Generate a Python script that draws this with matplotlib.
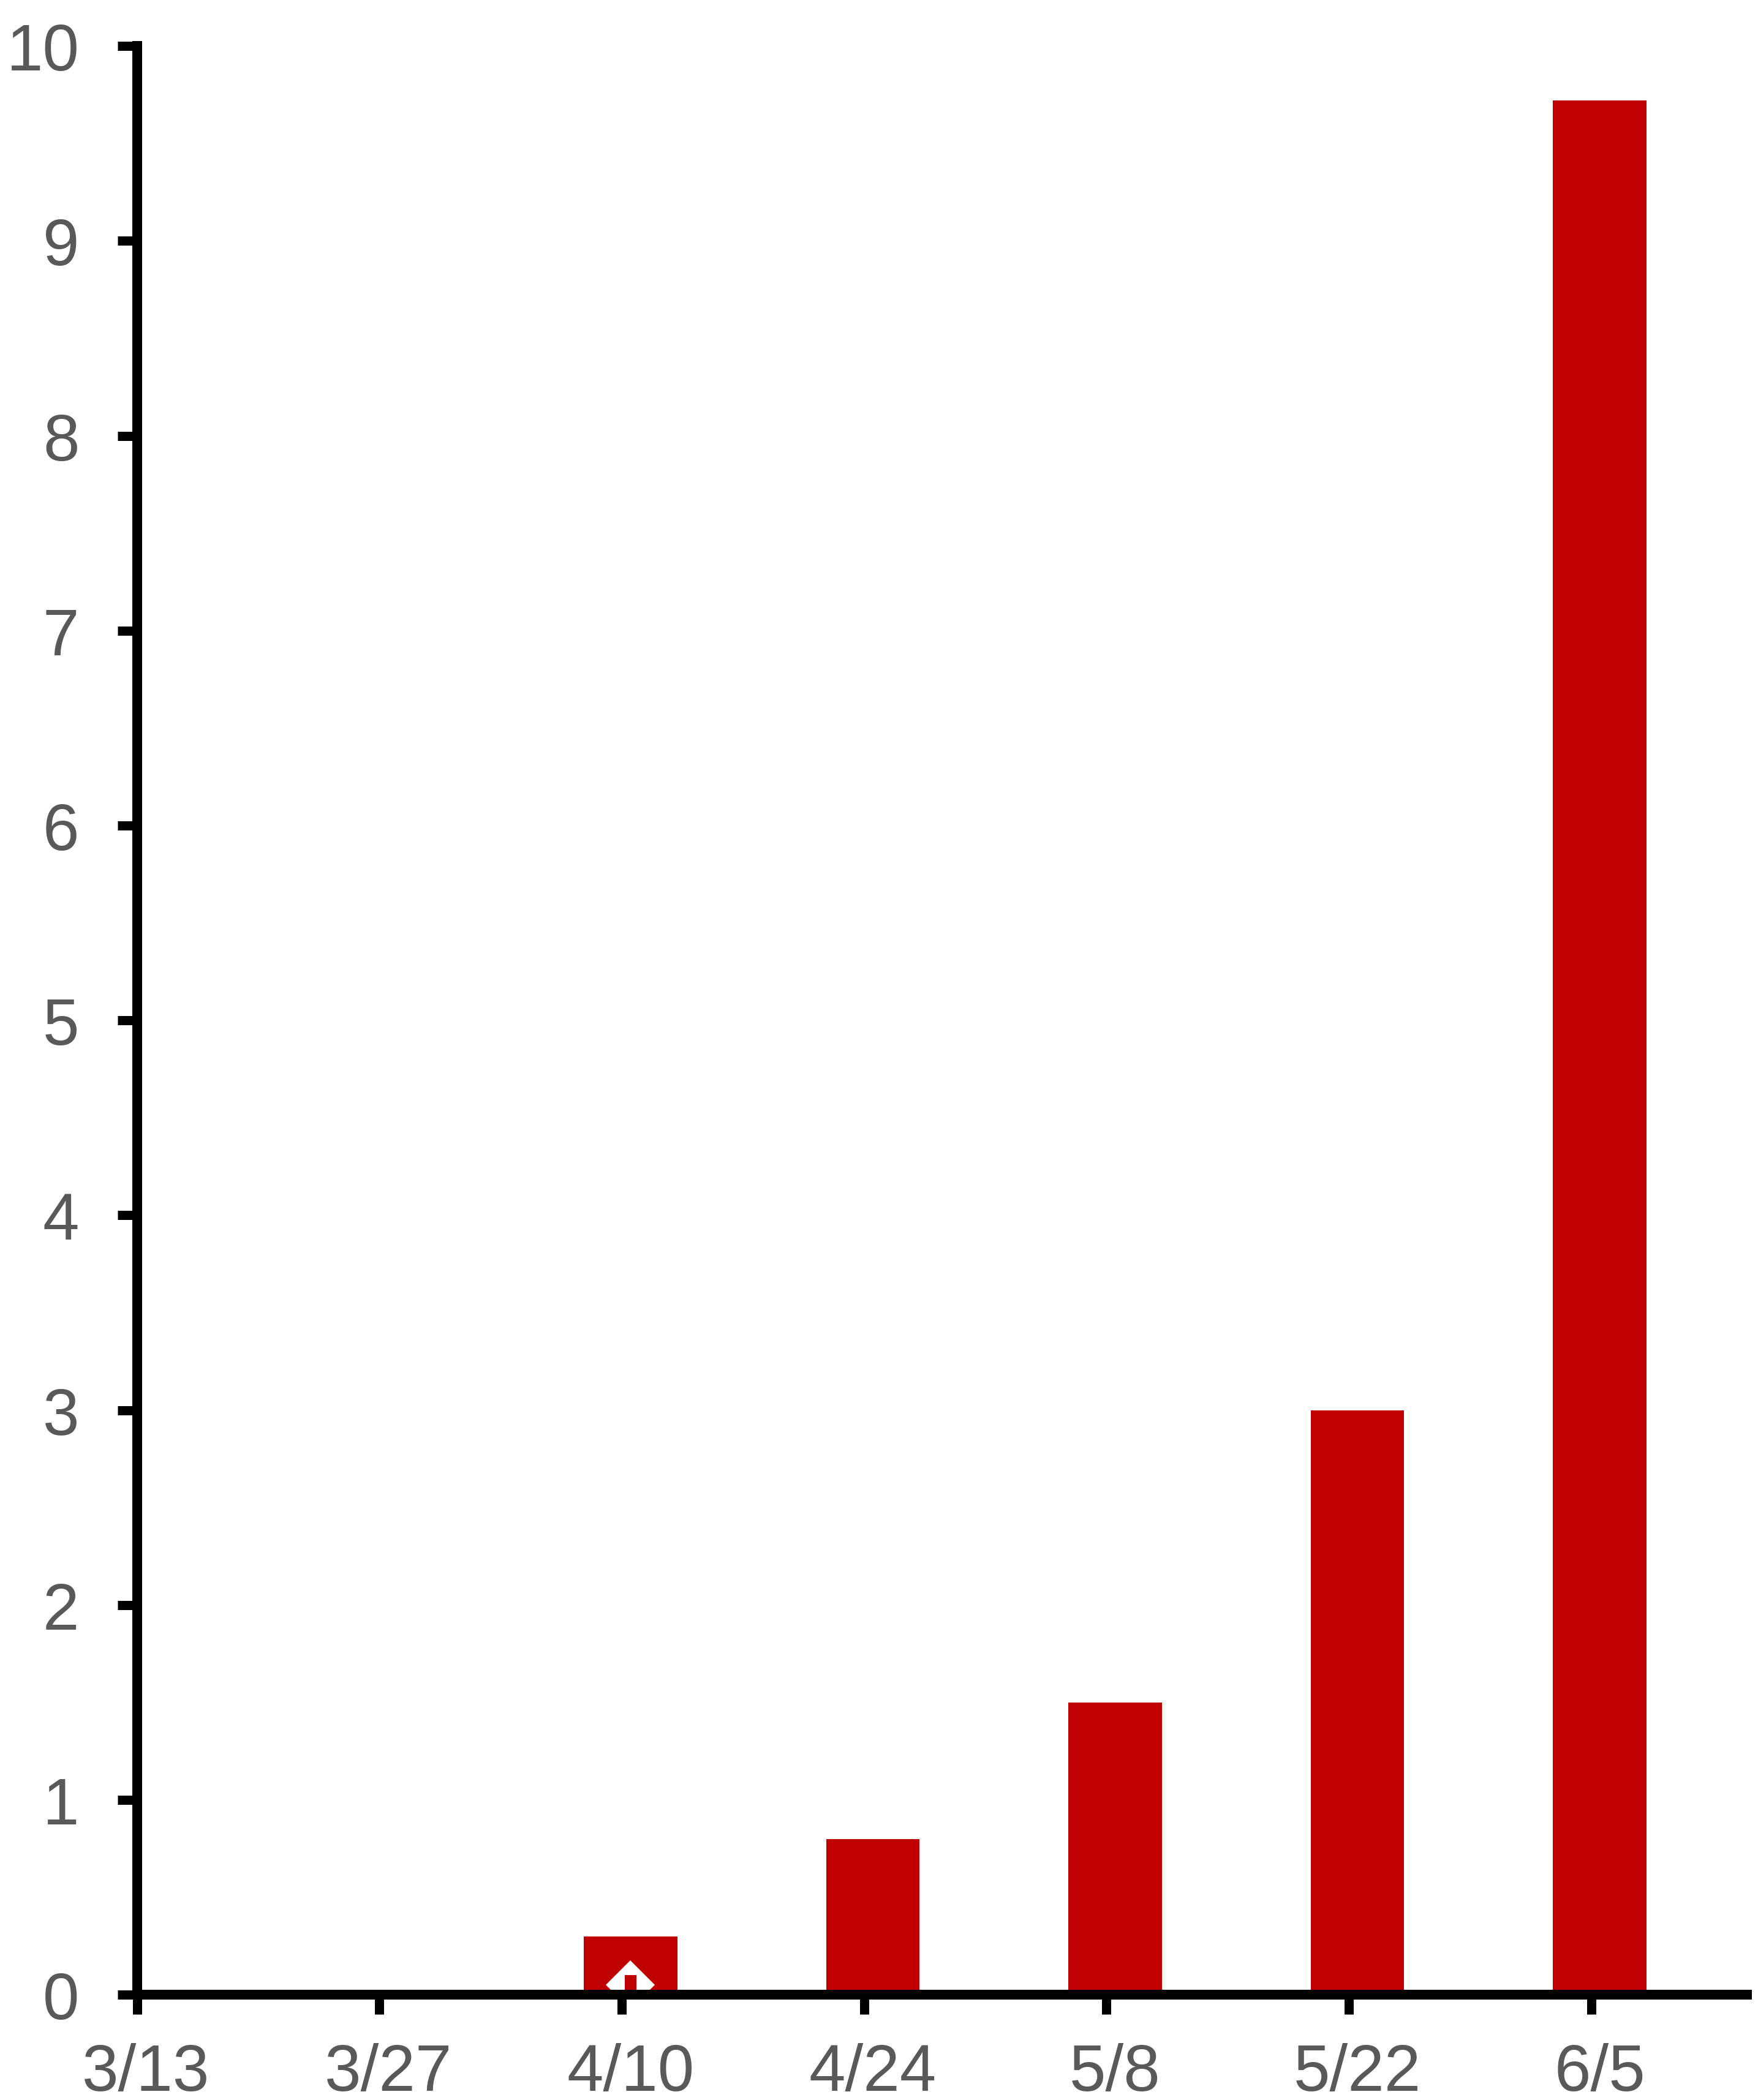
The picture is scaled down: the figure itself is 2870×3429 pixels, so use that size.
import matplotlib.pyplot as plt
import numpy as np

# data
date_labels = ['3/13', '3/27', '4/10', '4/24', '5/8', '5/22', '6/5']
day_offsets = [0, 14, 28, 42, 56, 70, 84]   # days since 3/13
values = [0, 0, 0.3, 0.8, 1.5, 3.0, 9.72]
y_ticks = list(range(0, 11))

# small marker glyph sitting on the 4/10 bar
marker_idx = 2
marker_value = 0.05
marker_inner = 0.1

plt.rcParams['font.family'] = ['Liberation Sans', 'DejaVu Sans']

fig = plt.figure(figsize=(28.7, 34.3), dpi=100)
ax = fig.add_axes([0.078, 0.0501, 0.9157, 0.9277])

x = np.array(day_offsets, dtype=float)
bar_x = x + 0.5
ax.bar(bar_x, values, width=5.4, color='#C00000', zorder=2)

# white diamond with a small red stem inside
ax.plot(bar_x[marker_idx], marker_value, marker='D', markersize=41,
        color='white', markeredgewidth=0, zorder=3, clip_on=True)
ax.bar(bar_x[marker_idx], marker_inner, width=0.67, color='#C00000', zorder=4)

ax.set_xlim(0, 93)
ax.set_ylim(0, 10)

ax.set_xticks(x)
ax.set_xticklabels([])
ax.set_xticks(bar_x, minor=True)
ax.set_xticklabels(date_labels, minor=True)
ax.set_yticks(y_ticks)
ax.set_yticklabels([str(t) for t in y_ticks])

ax.tick_params(axis='x', which='major', direction='out', length=23, width=10.8,
               color='black')
ax.tick_params(axis='x', which='minor', length=0, pad=56,
               labelsize=77, labelcolor='#595959')
ax.tick_params(axis='y', direction='out', length=23, width=10.8, pad=45,
               labelsize=77, labelcolor='#595959', color='black')

for side in ['top', 'right']:
    ax.spines[side].set_visible(False)
for side in ['left', 'bottom']:
    ax.spines[side].set_linewidth(11.5)
    ax.spines[side].set_color('black')
    ax.spines[side].set_zorder(5)

fig.savefig('out.png', dpi=100)
